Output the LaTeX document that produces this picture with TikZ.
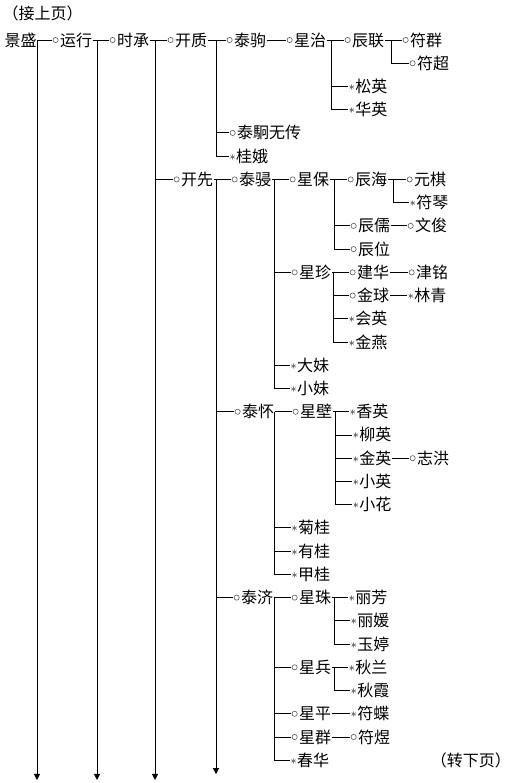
\documentclass[tikz,border=0pt]{standalone}
\usepackage{fontspec}
\setmainfont{Noto Sans CJK SC}
\usetikzlibrary{arrows.meta}

% markers: circle for sons, star for daughters
\newcommand\boy{\tikz[baseline=-6pt]\draw[black!65,line width=0.6pt] (0,0) circle (2.6pt);\hspace{1.5pt}}
\newcommand\girl{\raisebox{2pt}{\fontsize{12.5}{12.5}\selectfont$\ast$}\hspace{0.5pt}}

\begin{document}
\begin{tikzpicture}[
    x=1pt, y=-23.23pt,
    % styles
    person/.style={anchor=west, inner sep=0.5pt, text height=14pt, text depth=2pt,
                   font=\fontsize{16}{16}\selectfont},
    link/.style={line width=0.9pt},
    down/.style={link, -{Triangle[width=6pt,length=6pt]}},
]
    \useasboundingbox (0,-1.722) rectangle (521,31.98);

    \node[person] (prev) at (2,-1.16) {（接上页）};
    \node[person] (next) at (430,31) {（转下页）};

    % main line
    \node[person] (js) at (4,0) {景盛};
    \node[person] (yx) at (52,0) {\boy 运行};
    \node[person] (sc) at (109,0) {\boy 时承};
    \node[person] (kz) at (167,0) {\boy 开质};
    \node[person] (kx) at (173,6) {\boy 开先};

    % branch of kaizhi
    \node[person] (tj) at (226,0) {\boy 泰驹};
    \node[person] (xz) at (286,0) {\boy 星治};
    \node[person] (cl) at (344,0) {\boy 辰联};
    \node[person] (fq) at (402,0) {\boy 符群};
    \node[person] (fc) at (409,1) {\boy 符超};
    \node[person] (sy) at (348,2) {\girl 松英};
    \node[person] (hy) at (348,3) {\girl 华英};
    \node[person] (tjw) at (229,4) {\boy 泰駉无传};
    \node[person] (ge) at (229,5) {\girl 桂娥};

    % branch of kaixian
    \node[person] (tq) at (231,6) {\boy 泰骎};
    \node[person] (xb) at (289,6) {\boy 星保};
    \node[person] (ch) at (347,6) {\boy 辰海};
    \node[person] (yq) at (406,6) {\boy 元棋};
    \node[person] (fqin) at (409,7) {\girl 符琴};
    \node[person] (cr) at (350,8) {\boy 辰儒};
    \node[person] (wj) at (407,8) {\boy 文俊};
    \node[person] (cw) at (350,9) {\boy 辰位};
    \node[person] (xzh) at (291,10) {\boy 星珍};
    \node[person] (jh) at (349,10) {\boy 建华};
    \node[person] (jm) at (408,10) {\boy 津铭};
    \node[person] (jq) at (349,11) {\boy 金球};
    \node[person] (lq) at (407,11) {\girl 林青};
    \node[person] (hyi) at (348,12) {\girl 会英};
    \node[person] (jy) at (348,13) {\girl 金燕};
    \node[person] (dm) at (290,14) {\girl 大妹};
    \node[person] (xm) at (290,15) {\girl 小妹};

    \node[person] (th) at (234,16) {\boy 泰怀};
    \node[person] (xbi) at (292,16) {\boy 星壁};
    \node[person] (xy) at (349,16) {\girl 香英};
    \node[person] (ly) at (352,17) {\girl 柳英};
    \node[person] (jying) at (352,18) {\girl 金英};
    \node[person] (zh) at (409,18) {\boy 志洪};
    \node[person] (xying) at (352,19) {\girl 小英};
    \node[person] (xh) at (352,20) {\girl 小花};
    \node[person] (jg) at (291,21) {\girl 菊桂};
    \node[person] (yg) at (291,22) {\girl 有桂};
    \node[person] (jgui) at (291,23) {\girl 甲桂};

    \node[person] (tji) at (233,24) {\boy 泰济};
    \node[person] (xzhu) at (291,24) {\boy 星珠};
    \node[person] (lf) at (348,24) {\girl 丽芳};
    \node[person] (lyuan) at (350,25) {\girl 丽媛};
    \node[person] (yt) at (350,26) {\girl 玉婷};
    \node[person] (xbing) at (291,27) {\boy 星兵};
    \node[person] (ql) at (348,27) {\girl 秋兰};
    \node[person] (qx) at (350,28) {\girl 秋霞};
    \node[person] (xp) at (291,29) {\boy 星平};
    \node[person] (fd) at (350,29) {\girl 符蝶};
    \node[person] (xq) at (291,30) {\boy 星群};
    \node[person] (fy) at (350,30) {\boy 符煜};
    \node[person] (chh) at (290,31) {\girl 春华};

    % junctions
    \coordinate (j0) at (37,0);   \coordinate (e0) at (37,31.85);
    \coordinate (j1) at (97,0);   \coordinate (e1) at (97,31.85);
    \coordinate (j2) at (155,0);  \coordinate (e2) at (155,31.85);
    \coordinate (jkz) at (216,0);
    \coordinate (jkx) at (216,6); \coordinate (e3) at (216,31.6);
    \coordinate (jxz) at (331,0);
    \coordinate (jcl) at (391,0);
    \coordinate (jtq) at (274,6);
    \coordinate (jxb) at (334,6);
    \coordinate (jch) at (393,6);
    \coordinate (jxzh) at (333,10);
    \coordinate (jth) at (274,16);
    \coordinate (jxbi) at (335,16);
    \coordinate (jtji) at (274,24);
    \coordinate (jxzhu) at (334,24);
    \coordinate (jxbing) at (334,27);

    % continued lines
    \foreach \j/\e in {j0/e0,j1/e1,j2/e2,jkx/e3}
        \draw[down] (\j) -- (\e);

    % parent -> first child
    \foreach \a/\b in {js/yx,yx/sc,sc/kz,kz/tj,tj/xz,xz/cl,cl/fq,
                       kx/tq,tq/xb,xb/ch,ch/yq,cr/wj,xzh/jh,jh/jm,jq/lq,
                       th/xbi,xbi/xy,jying/zh,
                       tji/xzhu,xzhu/lf,xbing/ql,xp/fd,xq/fy}
        \draw[link] (\a.east) -- (\b.west);

    % further children
    \foreach \j/\c in {j2/kx,jkz/tjw,jkz/ge,jxz/sy,jxz/hy,jcl/fc,
                       jkx/th,jkx/tji,
                       jtq/xzh,jtq/dm,jtq/xm,jxb/cr,jxb/cw,jch/fqin,
                       jxzh/jq,jxzh/hyi,jxzh/jy,
                       jth/jg,jth/yg,jth/jgui,
                       jxbi/ly,jxbi/jying,jxbi/xying,jxbi/xh,
                       jtji/xbing,jtji/xp,jtji/xq,jtji/chh,
                       jxzhu/lyuan,jxzhu/yt,jxbing/qx}
        \draw[link] (\j) |- (\c.west);

\end{tikzpicture}
\end{document}
